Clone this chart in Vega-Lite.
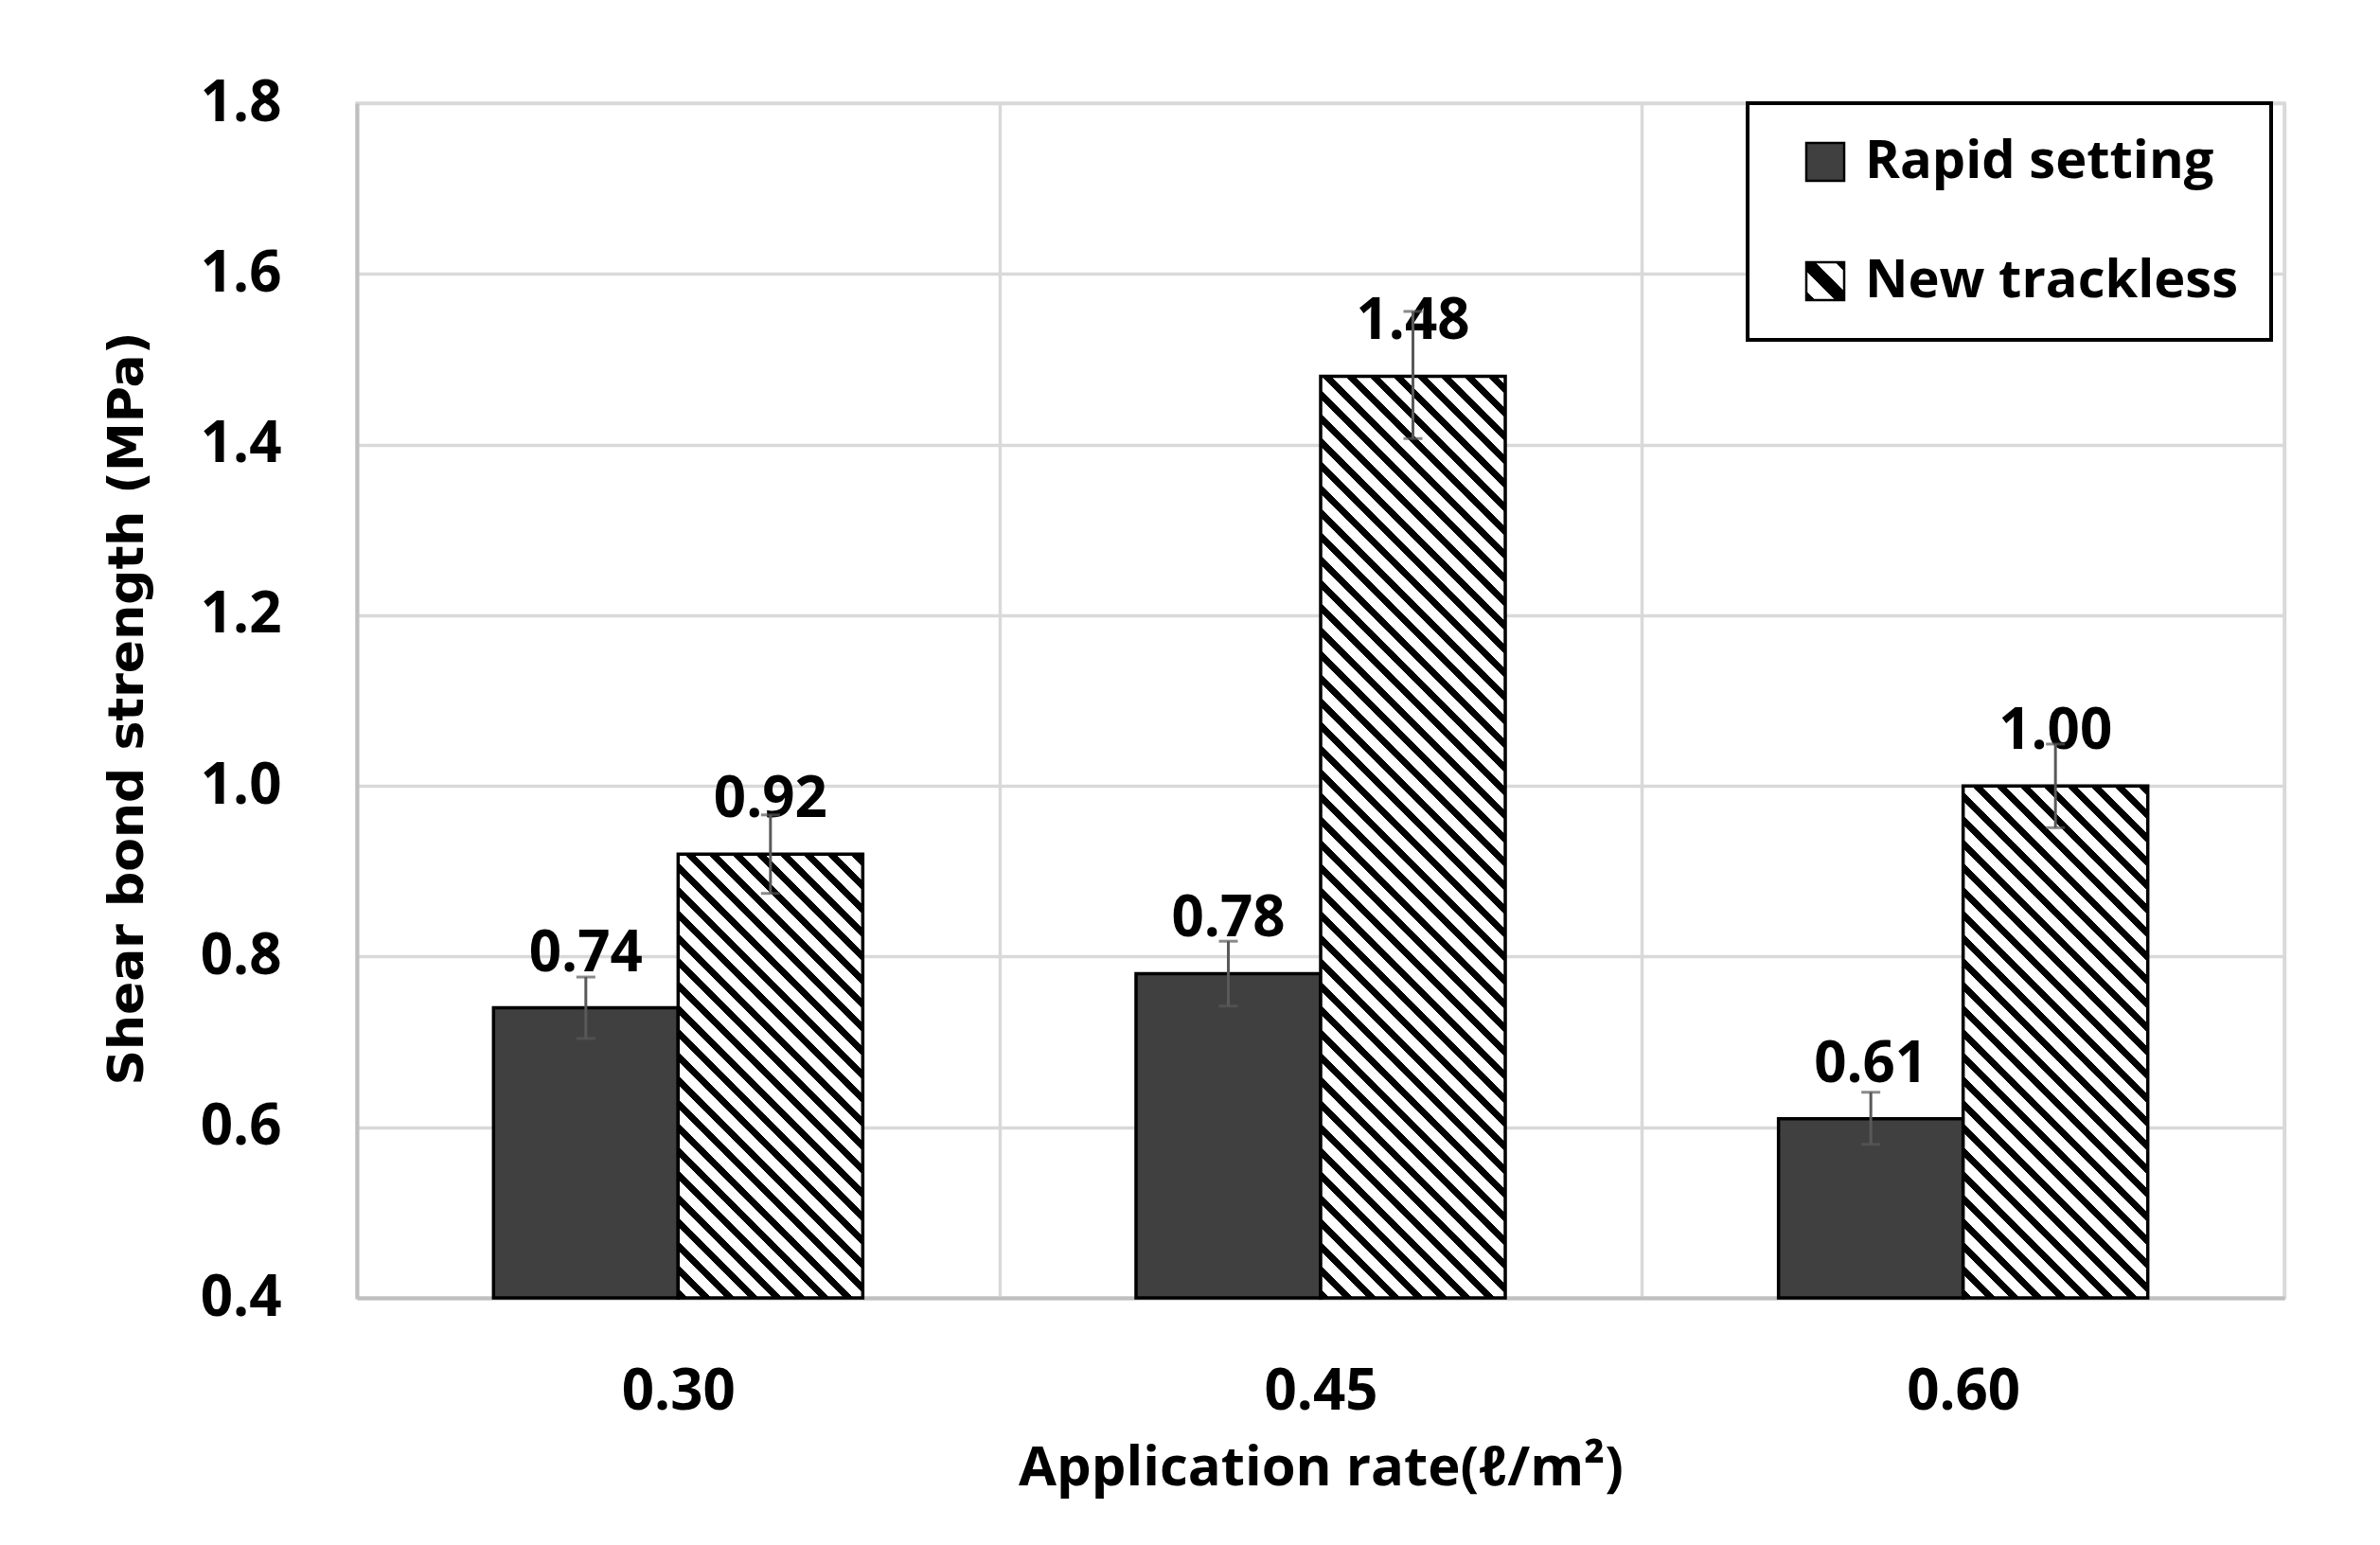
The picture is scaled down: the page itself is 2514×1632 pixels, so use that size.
{
  "$schema": "https://vega.github.io/schema/vega-lite/v6.json",
  "autosize": "none",
  "width": 2036,
  "height": 1262,
  "padding": {"left": 377, "top": 109, "right": 101, "bottom": 261},
  "background": "white",
  "config": {
    "view": {"stroke": "#d9d9d9", "strokeWidth": 3.5},
    "axis": {"labelFont": "Open Sans", "labelFontWeight": "bold", "labelFontSize": 60, "labelColor": "black", "titleColor": "black"},
    "legend": {"strokeWidth": 4}
  },
  "data": {
    "values": [
      {"rate": "0.30", "series": "Rapid setting", "value": 0.74, "lo": 0.704, "hi": 0.776},
      {"rate": "0.30", "series": "New trackless", "value": 0.92, "lo": 0.874, "hi": 0.966},
      {"rate": "0.45", "series": "Rapid setting", "value": 0.78, "lo": 0.742, "hi": 0.818},
      {"rate": "0.45", "series": "New trackless", "value": 1.48, "lo": 1.407, "hi": 1.556},
      {"rate": "0.60", "series": "Rapid setting", "value": 0.61, "lo": 0.580, "hi": 0.641},
      {"rate": "0.60", "series": "New trackless", "value": 1.00, "lo": 0.951, "hi": 1.049}
    ]
  },
  "encoding": {
    "x": {
      "field": "rate", "type": "nominal",
      "scale": {"paddingInner": 0, "paddingOuter": 0},
      "axis": {
        "title": "Application rate(ℓ/m²)", "labelAngle": 0, "ticks": false, "tickSize": 0, "tickBand": "extent",
        "grid": true, "gridColor": "#d9d9d9", "gridWidth": 3.5,
        "domainColor": "#bfbfbf", "domainWidth": 4,
        "labelPadding": 70, "labelBaseline": "top",
        "titleY": 197, "titleBaseline": "alphabetic", "titleFont": "Open Sans", "titleFontWeight": "bold", "titleFontSize": 58
      }
    },
    "xOffset": {
      "field": "series", "type": "nominal", "sort": ["Rapid setting", "New trackless"],
      "scale": {"paddingInner": 0, "paddingOuter": 0.74}
    }
  },
  "layer": [
    {
      "mark": {"type": "bar", "stroke": "black", "strokeWidth": 3.5},
      "encoding": {
        "y": {
          "field": "value", "type": "quantitative",
          "scale": {"domain": [0.4, 1.8], "zero": false, "nice": false},
          "axis": {
            "title": "Shear bond strength (MPa)", "values": [0.4, 0.6, 0.8, 1.0, 1.2, 1.4, 1.6, 1.8], "format": ".1f",
            "ticks": false, "tickSize": 0, "labelPadding": 80,
            "grid": true, "gridColor": "#d9d9d9", "gridWidth": 3.5,
            "domainColor": "#bfbfbf", "domainWidth": 4,
            "titleX": -227, "titleY": 639, "titleAngle": -90, "titleAlign": "center", "titleBaseline": "alphabetic",
            "titleFont": "DejaVu Sans", "titleFontWeight": "bold", "titleFontSize": 52
          }
        },
        "y2": {"datum": 0.4},
        "fill": {
          "field": "series", "type": "nominal",
          "scale": {"domain": ["Rapid setting", "New trackless"], "range": ["#404040", {"expr": "{gradient: 'linear', x1: 0, y1: 1, x2: 1, y2: 0, stops: [{offset: 0, color: '#000'}, {offset: 0.12, color: '#000'}, {offset: 0.12, color: '#fff'}, {offset: 0.38, color: '#fff'}, {offset: 0.38, color: '#000'}, {offset: 0.62, color: '#000'}, {offset: 0.62, color: '#fff'}, {offset: 0.88, color: '#fff'}, {offset: 0.88, color: '#000'}, {offset: 1, color: '#000'}]}"}]},
          "legend": {
            "title": null, "orient": "none", "legendX": 1469, "legendY": 0,
            "padding": 34, "strokeColor": "black", "fillColor": "white",
            "symbolType": "square", "symbolSize": 1600, "symbolStrokeColor": "black", "symbolStrokeWidth": 2.5,
            "symbolOffset": 20, "labelOffset": 14, "rowPadding": 70, "labelLimit": 800,
            "labelFont": "Open Sans", "labelFontWeight": "bold", "labelFontSize": 56, "labelColor": "black"
          },
          "condition": [
            {"test": "datum.series === 'New trackless' && datum.rate === '0.30'", "value": {"gradient": "linear", "x1": 0, "y1": 1, "x2": 0.9459, "y2": -1.2736, "stops": [
{"offset":0,"color":"#000"},{"offset":0.008,"color":"#000"},{"offset":0.008,"color":"#fff"},{"offset":0.02,"color":"#fff"},
{"offset":0.02,"color":"#000"},{"offset":0.028,"color":"#000"},{"offset":0.028,"color":"#fff"},{"offset":0.04,"color":"#fff"},
{"offset":0.04,"color":"#000"},{"offset":0.048,"color":"#000"},{"offset":0.048,"color":"#fff"},{"offset":0.06,"color":"#fff"},
{"offset":0.06,"color":"#000"},{"offset":0.068,"color":"#000"},{"offset":0.068,"color":"#fff"},{"offset":0.08,"color":"#fff"},
{"offset":0.08,"color":"#000"},{"offset":0.088,"color":"#000"},{"offset":0.088,"color":"#fff"},{"offset":0.1,"color":"#fff"},
{"offset":0.1,"color":"#000"},{"offset":0.108,"color":"#000"},{"offset":0.108,"color":"#fff"},{"offset":0.12,"color":"#fff"},
{"offset":0.12,"color":"#000"},{"offset":0.128,"color":"#000"},{"offset":0.128,"color":"#fff"},{"offset":0.14,"color":"#fff"},
{"offset":0.14,"color":"#000"},{"offset":0.148,"color":"#000"},{"offset":0.148,"color":"#fff"},{"offset":0.16,"color":"#fff"},
{"offset":0.16,"color":"#000"},{"offset":0.168,"color":"#000"},{"offset":0.168,"color":"#fff"},{"offset":0.18,"color":"#fff"},
{"offset":0.18,"color":"#000"},{"offset":0.188,"color":"#000"},{"offset":0.188,"color":"#fff"},{"offset":0.2,"color":"#fff"},
{"offset":0.2,"color":"#000"},{"offset":0.208,"color":"#000"},{"offset":0.208,"color":"#fff"},{"offset":0.22,"color":"#fff"},
{"offset":0.22,"color":"#000"},{"offset":0.228,"color":"#000"},{"offset":0.228,"color":"#fff"},{"offset":0.24,"color":"#fff"},
{"offset":0.24,"color":"#000"},{"offset":0.248,"color":"#000"},{"offset":0.248,"color":"#fff"},{"offset":0.26,"color":"#fff"},
{"offset":0.26,"color":"#000"},{"offset":0.268,"color":"#000"},{"offset":0.268,"color":"#fff"},{"offset":0.28,"color":"#fff"},
{"offset":0.28,"color":"#000"},{"offset":0.288,"color":"#000"},{"offset":0.288,"color":"#fff"},{"offset":0.3,"color":"#fff"},
{"offset":0.3,"color":"#000"},{"offset":0.308,"color":"#000"},{"offset":0.308,"color":"#fff"},{"offset":0.32,"color":"#fff"},
{"offset":0.32,"color":"#000"},{"offset":0.328,"color":"#000"},{"offset":0.328,"color":"#fff"},{"offset":0.34,"color":"#fff"},
{"offset":0.34,"color":"#000"},{"offset":0.348,"color":"#000"},{"offset":0.348,"color":"#fff"},{"offset":0.36,"color":"#fff"},
{"offset":0.36,"color":"#000"},{"offset":0.368,"color":"#000"},{"offset":0.368,"color":"#fff"},{"offset":0.38,"color":"#fff"},
{"offset":0.38,"color":"#000"},{"offset":0.388,"color":"#000"},{"offset":0.388,"color":"#fff"},{"offset":0.4,"color":"#fff"},
{"offset":0.4,"color":"#000"},{"offset":0.408,"color":"#000"},{"offset":0.408,"color":"#fff"},{"offset":0.42,"color":"#fff"},
{"offset":0.42,"color":"#000"},{"offset":0.428,"color":"#000"},{"offset":0.428,"color":"#fff"},{"offset":0.44,"color":"#fff"},
{"offset":0.44,"color":"#000"},{"offset":0.448,"color":"#000"},{"offset":0.448,"color":"#fff"},{"offset":0.46,"color":"#fff"},
{"offset":0.46,"color":"#000"},{"offset":0.468,"color":"#000"},{"offset":0.468,"color":"#fff"},{"offset":0.48,"color":"#fff"},
{"offset":0.48,"color":"#000"},{"offset":0.488,"color":"#000"},{"offset":0.488,"color":"#fff"},{"offset":0.5,"color":"#fff"},
{"offset":0.5,"color":"#000"},{"offset":0.508,"color":"#000"},{"offset":0.508,"color":"#fff"},{"offset":0.52,"color":"#fff"},
{"offset":0.52,"color":"#000"},{"offset":0.528,"color":"#000"},{"offset":0.528,"color":"#fff"},{"offset":0.54,"color":"#fff"}
            ]}},
            {"test": "datum.series === 'New trackless' && datum.rate === '0.45'", "value": {"gradient": "linear", "x1": 0, "y1": 1, "x2": 0.2473, "y2": -0.2344, "stops": [
{"offset":0,"color":"#000"},{"offset":0.008,"color":"#000"},{"offset":0.008,"color":"#fff"},{"offset":0.02,"color":"#fff"},
{"offset":0.02,"color":"#000"},{"offset":0.028,"color":"#000"},{"offset":0.028,"color":"#fff"},{"offset":0.04,"color":"#fff"},
{"offset":0.04,"color":"#000"},{"offset":0.048,"color":"#000"},{"offset":0.048,"color":"#fff"},{"offset":0.06,"color":"#fff"},
{"offset":0.06,"color":"#000"},{"offset":0.068,"color":"#000"},{"offset":0.068,"color":"#fff"},{"offset":0.08,"color":"#fff"},
{"offset":0.08,"color":"#000"},{"offset":0.088,"color":"#000"},{"offset":0.088,"color":"#fff"},{"offset":0.1,"color":"#fff"},
{"offset":0.1,"color":"#000"},{"offset":0.108,"color":"#000"},{"offset":0.108,"color":"#fff"},{"offset":0.12,"color":"#fff"},
{"offset":0.12,"color":"#000"},{"offset":0.128,"color":"#000"},{"offset":0.128,"color":"#fff"},{"offset":0.14,"color":"#fff"},
{"offset":0.14,"color":"#000"},{"offset":0.148,"color":"#000"},{"offset":0.148,"color":"#fff"},{"offset":0.16,"color":"#fff"},
{"offset":0.16,"color":"#000"},{"offset":0.168,"color":"#000"},{"offset":0.168,"color":"#fff"},{"offset":0.18,"color":"#fff"},
{"offset":0.18,"color":"#000"},{"offset":0.188,"color":"#000"},{"offset":0.188,"color":"#fff"},{"offset":0.2,"color":"#fff"},
{"offset":0.2,"color":"#000"},{"offset":0.208,"color":"#000"},{"offset":0.208,"color":"#fff"},{"offset":0.22,"color":"#fff"},
{"offset":0.22,"color":"#000"},{"offset":0.228,"color":"#000"},{"offset":0.228,"color":"#fff"},{"offset":0.24,"color":"#fff"},
{"offset":0.24,"color":"#000"},{"offset":0.248,"color":"#000"},{"offset":0.248,"color":"#fff"},{"offset":0.26,"color":"#fff"},
{"offset":0.26,"color":"#000"},{"offset":0.268,"color":"#000"},{"offset":0.268,"color":"#fff"},{"offset":0.28,"color":"#fff"},
{"offset":0.28,"color":"#000"},{"offset":0.288,"color":"#000"},{"offset":0.288,"color":"#fff"},{"offset":0.3,"color":"#fff"},
{"offset":0.3,"color":"#000"},{"offset":0.308,"color":"#000"},{"offset":0.308,"color":"#fff"},{"offset":0.32,"color":"#fff"},
{"offset":0.32,"color":"#000"},{"offset":0.328,"color":"#000"},{"offset":0.328,"color":"#fff"},{"offset":0.34,"color":"#fff"},
{"offset":0.34,"color":"#000"},{"offset":0.348,"color":"#000"},{"offset":0.348,"color":"#fff"},{"offset":0.36,"color":"#fff"},
{"offset":0.36,"color":"#000"},{"offset":0.368,"color":"#000"},{"offset":0.368,"color":"#fff"},{"offset":0.38,"color":"#fff"},
{"offset":0.38,"color":"#000"},{"offset":0.388,"color":"#000"},{"offset":0.388,"color":"#fff"},{"offset":0.4,"color":"#fff"},
{"offset":0.4,"color":"#000"},{"offset":0.408,"color":"#000"},{"offset":0.408,"color":"#fff"},{"offset":0.42,"color":"#fff"},
{"offset":0.42,"color":"#000"},{"offset":0.428,"color":"#000"},{"offset":0.428,"color":"#fff"},{"offset":0.44,"color":"#fff"},
{"offset":0.44,"color":"#000"},{"offset":0.448,"color":"#000"},{"offset":0.448,"color":"#fff"},{"offset":0.46,"color":"#fff"},
{"offset":0.46,"color":"#000"},{"offset":0.468,"color":"#000"},{"offset":0.468,"color":"#fff"},{"offset":0.48,"color":"#fff"},
{"offset":0.48,"color":"#000"},{"offset":0.488,"color":"#000"},{"offset":0.488,"color":"#fff"},{"offset":0.5,"color":"#fff"},
{"offset":0.5,"color":"#000"},{"offset":0.508,"color":"#000"},{"offset":0.508,"color":"#fff"},{"offset":0.52,"color":"#fff"},
{"offset":0.52,"color":"#000"},{"offset":0.528,"color":"#000"},{"offset":0.528,"color":"#fff"},{"offset":0.54,"color":"#fff"},
{"offset":0.54,"color":"#000"},{"offset":0.548,"color":"#000"},{"offset":0.548,"color":"#fff"},{"offset":0.56,"color":"#fff"},
{"offset":0.56,"color":"#000"},{"offset":0.568,"color":"#000"},{"offset":0.568,"color":"#fff"},{"offset":0.58,"color":"#fff"},
{"offset":0.58,"color":"#000"},{"offset":0.588,"color":"#000"},{"offset":0.588,"color":"#fff"},{"offset":0.6,"color":"#fff"},
{"offset":0.6,"color":"#000"},{"offset":0.608,"color":"#000"},{"offset":0.608,"color":"#fff"},{"offset":0.62,"color":"#fff"},
{"offset":0.62,"color":"#000"},{"offset":0.628,"color":"#000"},{"offset":0.628,"color":"#fff"},{"offset":0.64,"color":"#fff"},
{"offset":0.64,"color":"#000"},{"offset":0.648,"color":"#000"},{"offset":0.648,"color":"#fff"},{"offset":0.66,"color":"#fff"},
{"offset":0.66,"color":"#000"},{"offset":0.668,"color":"#000"},{"offset":0.668,"color":"#fff"},{"offset":0.68,"color":"#fff"},
{"offset":0.68,"color":"#000"},{"offset":0.688,"color":"#000"},{"offset":0.688,"color":"#fff"},{"offset":0.7,"color":"#fff"},
{"offset":0.7,"color":"#000"},{"offset":0.708,"color":"#000"},{"offset":0.708,"color":"#fff"},{"offset":0.72,"color":"#fff"},
{"offset":0.72,"color":"#000"},{"offset":0.728,"color":"#000"},{"offset":0.728,"color":"#fff"},{"offset":0.74,"color":"#fff"},
{"offset":0.74,"color":"#000"},{"offset":0.748,"color":"#000"},{"offset":0.748,"color":"#fff"},{"offset":0.76,"color":"#fff"},
{"offset":0.76,"color":"#000"},{"offset":0.768,"color":"#000"},{"offset":0.768,"color":"#fff"},{"offset":0.78,"color":"#fff"},
{"offset":0.78,"color":"#000"},{"offset":0.788,"color":"#000"},{"offset":0.788,"color":"#fff"},{"offset":0.8,"color":"#fff"},
{"offset":0.8,"color":"#000"},{"offset":0.808,"color":"#000"},{"offset":0.808,"color":"#fff"},{"offset":0.82,"color":"#fff"},
{"offset":0.82,"color":"#000"},{"offset":0.828,"color":"#000"},{"offset":0.828,"color":"#fff"},{"offset":0.84,"color":"#fff"},
{"offset":0.84,"color":"#000"},{"offset":0.848,"color":"#000"},{"offset":0.848,"color":"#fff"},{"offset":0.86,"color":"#fff"},
{"offset":0.86,"color":"#000"},{"offset":0.868,"color":"#000"},{"offset":0.868,"color":"#fff"},{"offset":0.88,"color":"#fff"},
{"offset":0.88,"color":"#000"},{"offset":0.888,"color":"#000"},{"offset":0.888,"color":"#fff"},{"offset":0.9,"color":"#fff"},
{"offset":0.9,"color":"#000"},{"offset":0.908,"color":"#000"},{"offset":0.908,"color":"#fff"},{"offset":0.92,"color":"#fff"},
{"offset":0.92,"color":"#000"},{"offset":0.928,"color":"#000"},{"offset":0.928,"color":"#fff"},{"offset":0.94,"color":"#fff"}
            ]}},
            {"test": "datum.series === 'New trackless' && datum.rate === '0.60'", "value": {"gradient": "linear", "x1": 0, "y1": 1, "x2": 0.7375, "y2": -1.0452, "stops": [
{"offset":0,"color":"#000"},{"offset":0.008,"color":"#000"},{"offset":0.008,"color":"#fff"},{"offset":0.02,"color":"#fff"},
{"offset":0.02,"color":"#000"},{"offset":0.028,"color":"#000"},{"offset":0.028,"color":"#fff"},{"offset":0.04,"color":"#fff"},
{"offset":0.04,"color":"#000"},{"offset":0.048,"color":"#000"},{"offset":0.048,"color":"#fff"},{"offset":0.06,"color":"#fff"},
{"offset":0.06,"color":"#000"},{"offset":0.068,"color":"#000"},{"offset":0.068,"color":"#fff"},{"offset":0.08,"color":"#fff"},
{"offset":0.08,"color":"#000"},{"offset":0.088,"color":"#000"},{"offset":0.088,"color":"#fff"},{"offset":0.1,"color":"#fff"},
{"offset":0.1,"color":"#000"},{"offset":0.108,"color":"#000"},{"offset":0.108,"color":"#fff"},{"offset":0.12,"color":"#fff"},
{"offset":0.12,"color":"#000"},{"offset":0.128,"color":"#000"},{"offset":0.128,"color":"#fff"},{"offset":0.14,"color":"#fff"},
{"offset":0.14,"color":"#000"},{"offset":0.148,"color":"#000"},{"offset":0.148,"color":"#fff"},{"offset":0.16,"color":"#fff"},
{"offset":0.16,"color":"#000"},{"offset":0.168,"color":"#000"},{"offset":0.168,"color":"#fff"},{"offset":0.18,"color":"#fff"},
{"offset":0.18,"color":"#000"},{"offset":0.188,"color":"#000"},{"offset":0.188,"color":"#fff"},{"offset":0.2,"color":"#fff"},
{"offset":0.2,"color":"#000"},{"offset":0.208,"color":"#000"},{"offset":0.208,"color":"#fff"},{"offset":0.22,"color":"#fff"},
{"offset":0.22,"color":"#000"},{"offset":0.228,"color":"#000"},{"offset":0.228,"color":"#fff"},{"offset":0.24,"color":"#fff"},
{"offset":0.24,"color":"#000"},{"offset":0.248,"color":"#000"},{"offset":0.248,"color":"#fff"},{"offset":0.26,"color":"#fff"},
{"offset":0.26,"color":"#000"},{"offset":0.268,"color":"#000"},{"offset":0.268,"color":"#fff"},{"offset":0.28,"color":"#fff"},
{"offset":0.28,"color":"#000"},{"offset":0.288,"color":"#000"},{"offset":0.288,"color":"#fff"},{"offset":0.3,"color":"#fff"},
{"offset":0.3,"color":"#000"},{"offset":0.308,"color":"#000"},{"offset":0.308,"color":"#fff"},{"offset":0.32,"color":"#fff"},
{"offset":0.32,"color":"#000"},{"offset":0.328,"color":"#000"},{"offset":0.328,"color":"#fff"},{"offset":0.34,"color":"#fff"},
{"offset":0.34,"color":"#000"},{"offset":0.348,"color":"#000"},{"offset":0.348,"color":"#fff"},{"offset":0.36,"color":"#fff"},
{"offset":0.36,"color":"#000"},{"offset":0.368,"color":"#000"},{"offset":0.368,"color":"#fff"},{"offset":0.38,"color":"#fff"},
{"offset":0.38,"color":"#000"},{"offset":0.388,"color":"#000"},{"offset":0.388,"color":"#fff"},{"offset":0.4,"color":"#fff"},
{"offset":0.4,"color":"#000"},{"offset":0.408,"color":"#000"},{"offset":0.408,"color":"#fff"},{"offset":0.42,"color":"#fff"},
{"offset":0.42,"color":"#000"},{"offset":0.428,"color":"#000"},{"offset":0.428,"color":"#fff"},{"offset":0.44,"color":"#fff"},
{"offset":0.44,"color":"#000"},{"offset":0.448,"color":"#000"},{"offset":0.448,"color":"#fff"},{"offset":0.46,"color":"#fff"},
{"offset":0.46,"color":"#000"},{"offset":0.468,"color":"#000"},{"offset":0.468,"color":"#fff"},{"offset":0.48,"color":"#fff"},
{"offset":0.48,"color":"#000"},{"offset":0.488,"color":"#000"},{"offset":0.488,"color":"#fff"},{"offset":0.5,"color":"#fff"},
{"offset":0.5,"color":"#000"},{"offset":0.508,"color":"#000"},{"offset":0.508,"color":"#fff"},{"offset":0.52,"color":"#fff"},
{"offset":0.52,"color":"#000"},{"offset":0.528,"color":"#000"},{"offset":0.528,"color":"#fff"},{"offset":0.54,"color":"#fff"},
{"offset":0.54,"color":"#000"},{"offset":0.548,"color":"#000"},{"offset":0.548,"color":"#fff"},{"offset":0.56,"color":"#fff"},
{"offset":0.56,"color":"#000"},{"offset":0.568,"color":"#000"},{"offset":0.568,"color":"#fff"},{"offset":0.58,"color":"#fff"},
{"offset":0.58,"color":"#000"},{"offset":0.588,"color":"#000"},{"offset":0.588,"color":"#fff"},{"offset":0.6,"color":"#fff"}
            ]}}
          ]
        }
      }
    },
    {
      "mark": {"type": "text", "dy": -39, "baseline": "alphabetic", "align": "center", "font": "Open Sans", "fontWeight": "bold", "fontSize": 60, "color": "black"},
      "encoding": {
        "y": {"field": "value", "type": "quantitative", "title": "Shear bond strength (MPa)", "scale": {"domain": [0.4, 1.8], "zero": false, "nice": false}},
        "text": {"field": "value", "type": "quantitative", "format": ".2f"}
      }
    },
    {
      "mark": {"type": "rule", "color": "#595959", "strokeWidth": 3},
      "encoding": {
        "y": {"field": "lo", "type": "quantitative", "title": "Shear bond strength (MPa)", "scale": {"domain": [0.4, 1.8], "zero": false, "nice": false}},
        "y2": {"field": "hi"}
      }
    },
    {
      "mark": {"type": "tick", "orient": "horizontal", "color": "#595959", "size": 20, "thickness": 3},
      "encoding": {
        "y": {"field": "lo", "type": "quantitative", "title": "Shear bond strength (MPa)", "scale": {"domain": [0.4, 1.8], "zero": false, "nice": false}}
      }
    },
    {
      "mark": {"type": "tick", "orient": "horizontal", "color": "#595959", "size": 20, "thickness": 3},
      "encoding": {
        "y": {"field": "hi", "type": "quantitative", "title": "Shear bond strength (MPa)", "scale": {"domain": [0.4, 1.8], "zero": false, "nice": false}}
      }
    }
  ]
}
